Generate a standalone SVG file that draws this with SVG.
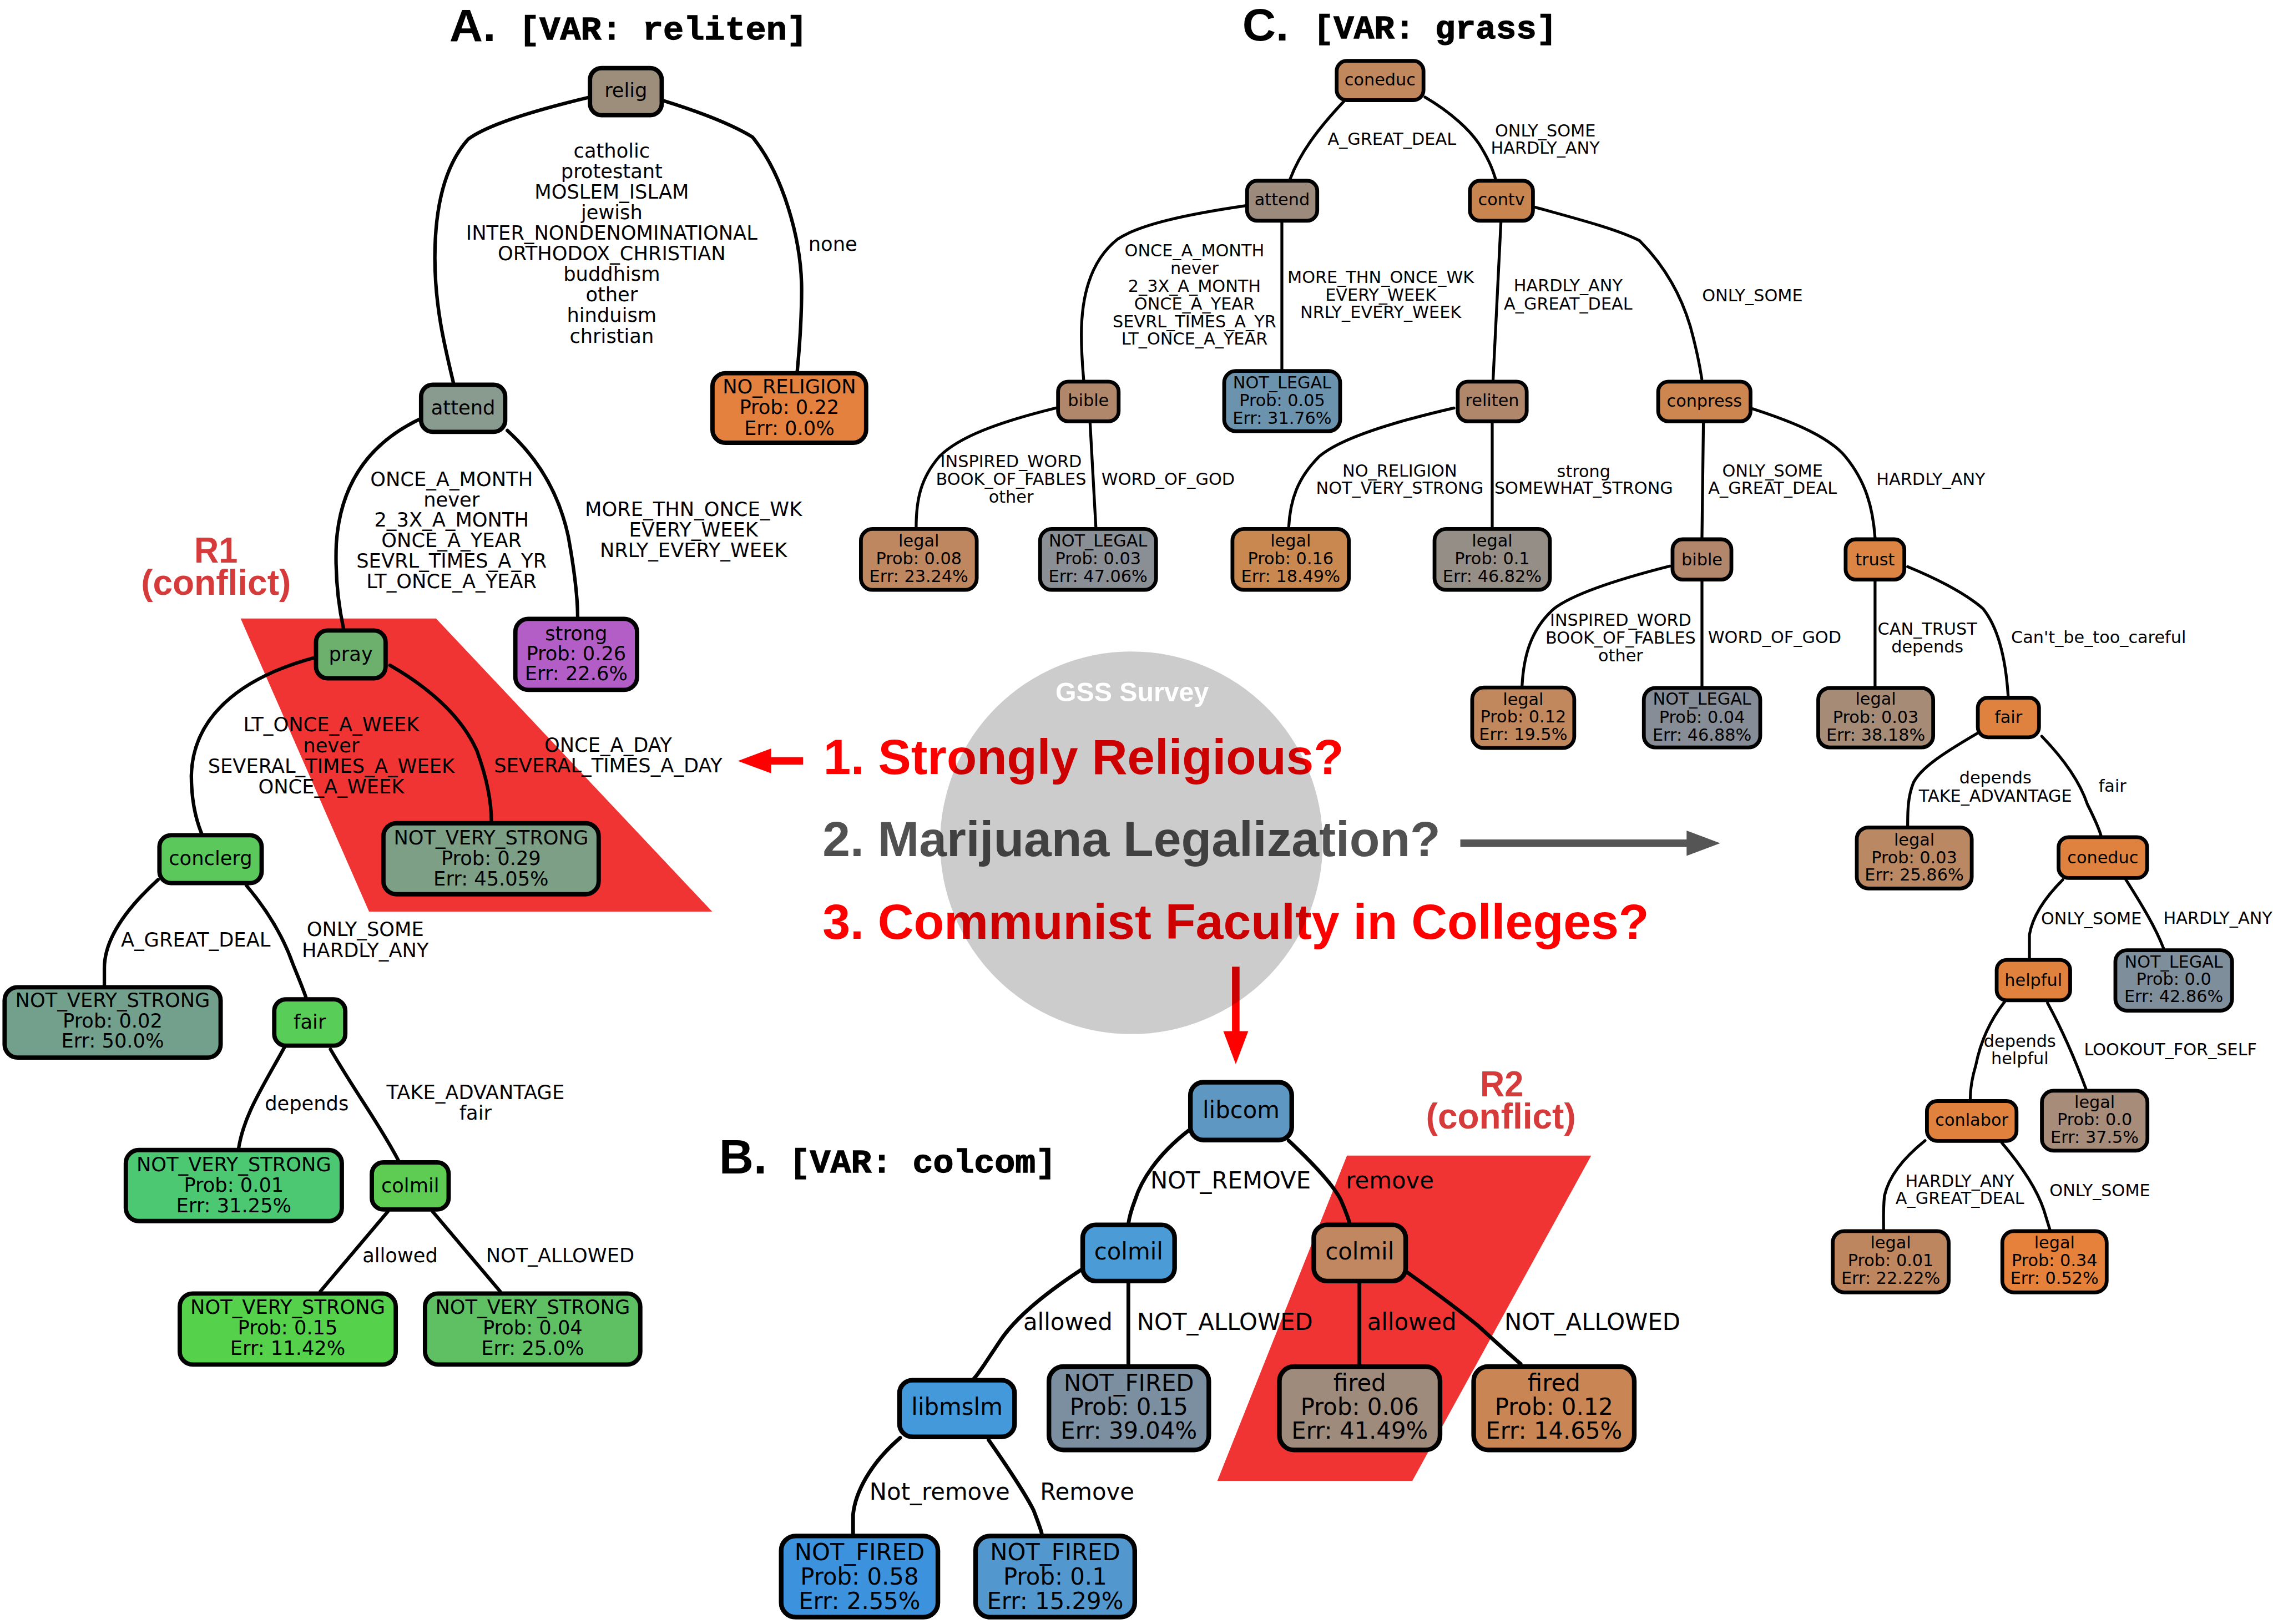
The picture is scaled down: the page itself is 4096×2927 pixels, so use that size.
<svg xmlns="http://www.w3.org/2000/svg" width="4096" height="2927" viewBox="0 0 4096 2927">
<style>
.t{font-family:'DejaVu Sans','Noto Sans',sans-serif;text-anchor:middle;fill:#000}
.ta{font-size:13.5px}
.tb{font-size:16px}
.tc{font-size:11.6px}
.e{fill:none;stroke:#000;stroke-linecap:round}
.ea{stroke-width:2.4}
.eb{stroke-width:2.6}
.ec{stroke-width:2}
.na{stroke:#000;stroke-width:3}
.nb{stroke:#000;stroke-width:3.2}
.nc{stroke:#000;stroke-width:2.6}
.big{font-family:'Liberation Sans',Arial,sans-serif;font-weight:bold}
.mono{font-family:'Liberation Mono','Courier New',monospace;font-weight:bold;font-size:22.5px;stroke:#000;stroke-width:0.5}
.conf{font-family:'Liberation Sans',Arial,sans-serif;font-weight:bold;fill:#d63b3b;font-size:25px;text-anchor:middle}
.q{font-family:'Liberation Sans',Arial,sans-serif;font-weight:bold;font-size:34.3px}
</style>
<rect width="4096" height="2927" fill="#fff"/>
<g transform="scale(2.6122)">
<!-- titles -->
<g id="titles">
<text class="big" x="310" y="28.3" font-size="31.5" textLength="32" lengthAdjust="spacingAndGlyphs">A.</text>
<text class="mono" x="358" y="27" textLength="199" lengthAdjust="spacingAndGlyphs">[VAR: reliten]</text>
<text class="big" x="857" y="28" font-size="31.5" textLength="32" lengthAdjust="spacingAndGlyphs">C.</text>
<text class="mono" x="906" y="26.5" textLength="168" lengthAdjust="spacingAndGlyphs">[VAR: grass]</text>
<text class="big" x="496" y="809.8" font-size="33">B.</text>
<text class="mono" x="544.6" y="809" textLength="184" lengthAdjust="spacingAndGlyphs">[VAR: colcom]</text>
</g>
<!-- conflict regions -->
<g id="conflict-R1">
<polygon points="166,426.7 300.8,426.7 491.3,629 254.6,629" fill="#f03434"/>
<text class="conf" x="149" y="388" textLength="30" lengthAdjust="spacingAndGlyphs">R1</text>
<text class="conf" x="149" y="410.5" textLength="103.4" lengthAdjust="spacingAndGlyphs">(conflict)</text>
</g>
<g id="conflict-R2">
<polygon points="929.2,797.3 1097.7,797.3 974.3,1021.7 839.8,1021.7" fill="#f03434"/>
<text class="conf" x="1036" y="756.4" textLength="30" lengthAdjust="spacingAndGlyphs">R2</text>
<text class="conf" x="1035.4" y="778.5" textLength="103.4" lengthAdjust="spacingAndGlyphs">(conflict)</text>
</g>
<!-- center questions -->
<g id="center">
<text class="q" x="568" y="534" fill="#ff0000" textLength="359" lengthAdjust="spacingAndGlyphs">1. Strongly Religious?</text>
<text class="q" x="567.4" y="590.6" fill="#515151" textLength="426.3" lengthAdjust="spacingAndGlyphs">2. Marijuana Legalization?</text>
<text class="q" x="567.4" y="647.7" fill="#ff0000" textLength="570.2" lengthAdjust="spacingAndGlyphs">3. Communist Faculty in Colleges?</text>
<rect x="531" y="522.4" width="23" height="5.2" fill="#ff0000"/>
<polygon points="509,525 532,516.4 532,533.6" fill="#ff0000"/>
<rect x="1007.4" y="579.2" width="157" height="5.2" fill="#555555"/>
<polygon points="1186.7,581.8 1163.5,573.1 1163.5,590.5" fill="#555555"/>
<rect x="849.9" y="667" width="5.2" height="45" fill="#ff0000"/>
<polygon points="852.5,734.2 843.9,711.5 861.1,711.5" fill="#ff0000"/>
<circle cx="780.5" cy="581.5" r="132" fill="#000" fill-opacity="0.2"/>
<text class="big" x="781" y="484" font-size="18.7" fill="#fff" text-anchor="middle" textLength="105.8" lengthAdjust="spacingAndGlyphs">GSS Survey</text>
</g>
<!-- connectors -->
<g id="connectors">
<g class="e ea">
<path d="M407,67 C365,77 335,87 323,96 C306,115 300,145 300,178 C300,212 307,240 313,265"/>
<path d="M458,69.6 C485,78 505,86 519,94.5 C540,120 553,165 553,200 C553,225 551,245 550,256"/>
<path d="M290,289 C258,304 235,330 232,375 C231,400 234,420 237,434"/>
<path d="M350,297 C372,317 386,342 392,370 C396,392 398.5,410 398.5,426"/>
<path d="M216,454 C165,468 133,495 132,535 C132,552 135,565 139,575"/>
<path d="M269,459 C302,478 320,498 329,518 C337,540 339,555 339,567"/>
<path d="M109,607 C87,627 72,648 72,668 L72,680"/>
<path d="M170,611 C186,630 196,648 202,665 C206,675 209,682 211,688"/>
<path d="M196,723 C180,752 168,770 164.5,793"/>
<path d="M228,724 C246,755 262,776 275,801"/>
<path d="M267.5,836 L221,891"/>
<path d="M298.5,836 L345,891"/>
</g>
<g class="e eb">
<path d="M820,780 C798,797 787,815 783,828 C780,836 779,840 778.5,844"/>
<path d="M889,787 C905,802 920,818 925,828 C928,835 930,840 931,844"/>
<path d="M746,876 C720,893 700,910 690,925 C680,940 675,948 672,951"/>
<path d="M778.4,885.5 L778.4,942"/>
<path d="M937.8,885.5 L937.8,942"/>
<path d="M971,878 C992,893 1008,905 1020,915 C1032,926 1042,935 1049,941"/>
<path d="M621,992 C600,1010 590,1030 588.5,1045 L588.5,1058"/>
<path d="M682,993.5 C697,1015 708,1032 713,1042 C716,1050 718,1055 718.6,1058"/>
</g>
<g class="e ec">
<path d="M927,70 C910,88 897,105 890,123.5"/>
<path d="M983,67 C1000,77 1015,90 1022,102 C1028,112 1030,118 1031.7,123.5"/>
<path d="M859,142 C818,148 786,155 771,165 C752,180 746,205 746,231 C746,245 747,255 747.6,262.5"/>
<path d="M884.3,153.6 L884.3,255"/>
<path d="M1035.4,153.6 L1030,262"/>
<path d="M1059,143 C1088,151 1115,158 1131,166 C1150,185 1160,205 1166,225 C1171,243 1173,255 1174,261.5"/>
<path d="M728.6,281.5 C690,291 662,301 648,315 C635,330 632,345 632,364"/>
<path d="M752,292 L756,364"/>
<path d="M1003,281.5 C962,291 925,302 910,315 C895,330 890,345 889,364"/>
<path d="M1029.4,292 L1029.4,364"/>
<path d="M1175.1,292 L1174.1,371"/>
<path d="M1209,282 C1240,292 1262,302 1273,315 C1287,332 1292,350 1293.5,371"/>
<path d="M1152,390.6 C1115,400 1085,410 1072,420 C1055,435 1051,455 1050,473"/>
<path d="M1174.1,401.3 L1174.1,473.4"/>
<path d="M1293.5,401.3 L1293.5,473.4"/>
<path d="M1316,391 C1345,403 1360,413 1368,420 C1380,435 1384,460 1385.3,480"/>
<path d="M1364,506 C1340,520 1325,530 1320,540 C1316,550 1316,560 1316,569.6"/>
<path d="M1408.5,508 C1425,525 1435,540 1440,555 C1445,565 1448,572 1449.3,576.3"/>
<path d="M1423,607 C1410,620 1402,633 1400,645 L1400,661"/>
<path d="M1466.6,607 C1478,625 1487,640 1492.5,654.3"/>
<path d="M1383,691 C1372,705 1366,720 1363,735 C1360,745 1359.2,752 1359.2,758.4"/>
<path d="M1412.5,692 C1425,715 1433,735 1439,751.3"/>
<path d="M1328,787 C1312,800 1303,812 1300,825 C1299,835 1299.4,842 1299.4,848"/>
<path d="M1381,788.5 C1395,805 1405,820 1410,835 L1414,848"/>
</g>
</g>
<!-- edge labels -->
<g id="edge-labels">
<text class="t ta" y="108.6"><tspan x="422">catholic</tspan><tspan x="422" dy="14.2">protestant</tspan><tspan x="422" dy="14.2">MOSLEM_ISLAM</tspan><tspan x="422" dy="14.2">jewish</tspan><tspan x="422" dy="14.2">INTER_NONDENOMINATIONAL</tspan><tspan x="422" dy="14.2">ORTHODOX_CHRISTIAN</tspan><tspan x="422" dy="14.2">buddhism</tspan><tspan x="422" dy="14.2">other</tspan><tspan x="422" dy="14.2">hinduism</tspan><tspan x="422" dy="14.2">christian</tspan></text>
<text class="t ta" x="574.5" y="172.9">none</text>
<text class="t ta" y="335.2"><tspan x="311.5">ONCE_A_MONTH</tspan><tspan x="311.5" dy="14.14">never</tspan><tspan x="311.5" dy="14.14">2_3X_A_MONTH</tspan><tspan x="311.5" dy="14.14">ONCE_A_YEAR</tspan><tspan x="311.5" dy="14.14">SEVRL_TIMES_A_YR</tspan><tspan x="311.5" dy="14.14">LT_ONCE_A_YEAR</tspan></text>
<text class="t ta" y="356.2"><tspan x="478.4">MORE_THN_ONCE_WK</tspan><tspan x="478.4" dy="14.1">EVERY_WEEK</tspan><tspan x="478.4" dy="14.1">NRLY_EVERY_WEEK</tspan></text>
<text class="t ta" y="504.7"><tspan x="228.5">LT_ONCE_A_WEEK</tspan><tspan x="228.5" dy="14.27">never</tspan><tspan x="228.5" dy="14.27">SEVERAL_TIMES_A_WEEK</tspan><tspan x="228.5" dy="14.27">ONCE_A_WEEK</tspan></text>
<text class="t ta" y="518.9"><tspan x="419.5">ONCE_A_DAY</tspan><tspan x="419.5" dy="13.8">SEVERAL_TIMES_A_DAY</tspan></text>
<text class="t ta" x="135" y="653.2">A_GREAT_DEAL</text>
<text class="t ta" y="645.9"><tspan x="252">ONLY_SOME</tspan><tspan x="252" dy="14.3">HARDLY_ANY</tspan></text>
<text class="t ta" x="211.6" y="765.9">depends</text>
<text class="t ta" y="758.4"><tspan x="328">TAKE_ADVANTAGE</tspan><tspan x="328" dy="14.2">fair</tspan></text>
<text class="t ta" x="276" y="870.9">allowed</text>
<text class="t ta" x="386.4" y="870.9">NOT_ALLOWED</text>

<text class="t tb" x="848.9" y="820.1">NOT_REMOVE</text>
<text class="t tb" x="958.8" y="820.1">remove</text>
<text class="t tb" x="736.7" y="917.8">allowed</text>
<text class="t tb" x="845" y="917.8">NOT_ALLOWED</text>
<text class="t tb" x="973.9" y="917.8">allowed</text>
<text class="t tb" x="1098.5" y="917.8">NOT_ALLOWED</text>
<text class="t tb" x="648.2" y="1034.8">Not_remove</text>
<text class="t tb" x="750" y="1034.8">Remove</text>

<text class="t tc" x="960.2" y="100">A_GREAT_DEAL</text>
<text class="t tc" y="94.2"><tspan x="1066">ONLY_SOME</tspan><tspan x="1066" dy="11.9">HARDLY_ANY</tspan></text>
<text class="t tc" y="177"><tspan x="824">ONCE_A_MONTH</tspan><tspan x="824" dy="12.18">never</tspan><tspan x="824" dy="12.18">2_3X_A_MONTH</tspan><tspan x="824" dy="12.18">ONCE_A_YEAR</tspan><tspan x="824" dy="12.18">SEVRL_TIMES_A_YR</tspan><tspan x="824" dy="12.18">LT_ONCE_A_YEAR</tspan></text>
<text class="t tc" y="195.4"><tspan x="952.5">MORE_THN_ONCE_WK</tspan><tspan x="952.5" dy="12.05">EVERY_WEEK</tspan><tspan x="952.5" dy="12.05">NRLY_EVERY_WEEK</tspan></text>
<text class="t tc" y="322.4"><tspan x="697.5">INSPIRED_WORD</tspan><tspan x="697.5" dy="12.25">BOOK_OF_FABLES</tspan><tspan x="697.5" dy="12.25">other</tspan></text>
<text class="t tc" x="805.8" y="334.5">WORD_OF_GOD</text>
<text class="t tc" y="201.1"><tspan x="1081.8">HARDLY_ANY</tspan><tspan x="1081.8" dy="12.4">A_GREAT_DEAL</tspan></text>
<text class="t tc" x="1208.9" y="207.7">ONLY_SOME</text>
<text class="t tc" y="329"><tspan x="965.6">NO_RELIGION</tspan><tspan x="965.6" dy="11.8">NOT_VERY_STRONG</tspan></text>
<text class="t tc" y="329.2"><tspan x="1092.5">strong</tspan><tspan x="1092.5" dy="11.6">SOMEWHAT_STRONG</tspan></text>
<text class="t tc" y="329"><tspan x="1222.8">ONLY_SOME</tspan><tspan x="1222.8" dy="11.8">A_GREAT_DEAL</tspan></text>
<text class="t tc" x="1332" y="334.5">HARDLY_ANY</text>
<text class="t tc" y="431.8"><tspan x="1118">INSPIRED_WORD</tspan><tspan x="1118" dy="12.3">BOOK_OF_FABLES</tspan><tspan x="1118" dy="12.3">other</tspan></text>
<text class="t tc" x="1224.2" y="443.7">WORD_OF_GOD</text>
<text class="t tc" y="437.8"><tspan x="1329.6">CAN_TRUST</tspan><tspan x="1329.6" dy="12.4">depends</tspan></text>
<text class="t tc" x="1447.7" y="443.7">Can't_be_too_careful</text>
<text class="t tc" y="540.4"><tspan x="1376.5">depends</tspan><tspan x="1376.5" dy="12.7">TAKE_ADVANTAGE</tspan></text>
<text class="t tc" x="1457.3" y="546.4">fair</text>
<text class="t tc" x="1442.7" y="637.8">ONLY_SOME</text>
<text class="t tc" x="1530" y="637.5">HARDLY_ANY</text>
<text class="t tc" y="722.5"><tspan x="1393.4">depends</tspan><tspan x="1393.4" dy="11.8">helpful</tspan></text>
<text class="t tc" x="1497.3" y="728.2">LOOKOUT_FOR_SELF</text>
<text class="t tc" y="818.9"><tspan x="1352">HARDLY_ANY</tspan><tspan x="1352" dy="12">A_GREAT_DEAL</tspan></text>
<text class="t tc" x="1448.6" y="825.2">ONLY_SOME</text>
</g>
<!-- Tree A nodes -->
<g id="a-relig"><rect class="na" x="407" y="47" width="49.5" height="32.5" rx="8" fill="#9c8e7b"/><text class="t ta" x="431.75" y="67.1">relig</text></g>
<g id="a-no-religion"><rect class="na" x="491.5" y="257.5" width="106" height="48" rx="9" fill="#e5813e"/><text class="t ta" y="271.4"><tspan x="544.5">NO_RELIGION</tspan><tspan x="544.5" dy="14.3">Prob: 0.22</tspan><tspan x="544.5" dy="14.3">Err: 0.0%</tspan></text></g>
<g id="a-attend"><rect class="na" x="290.5" y="265.5" width="58" height="32.5" rx="8" fill="#899a8f"/><text class="t ta" x="319.5" y="285.9">attend</text></g>
<g id="a-strong"><rect class="na" x="355.5" y="427" width="84" height="49" rx="9" fill="#b35ec6"/><text class="t ta" y="441.7"><tspan x="397.5">strong</tspan><tspan x="397.5" dy="13.9">Prob: 0.26</tspan><tspan x="397.5" dy="13.9">Err: 22.6%</tspan></text></g>
<g id="a-pray"><rect class="na" x="218" y="435" width="48" height="33" rx="8" fill="#6daf6d"/><text class="t ta" x="242" y="455.9">pray</text></g>
<g id="a-nvs-029"><rect class="na" x="264.5" y="568" width="148.5" height="49" rx="9" fill="#7d9f85"/><text class="t ta" y="582.5"><tspan x="338.75">NOT_VERY_STRONG</tspan><tspan x="338.75" dy="14.15">Prob: 0.29</tspan><tspan x="338.75" dy="14.15">Err: 45.05%</tspan></text></g>
<g id="a-conclerg"><rect class="na" x="110" y="576.3" width="70.5" height="33" rx="8" fill="#5bc85b"/><text class="t ta" x="145.25" y="596.7">conclerg</text></g>
<g id="a-nvs-002"><rect class="na" x="3.2" y="681.2" width="149" height="48.5" rx="9" fill="#72a08d"/><text class="t ta" y="694.9"><tspan x="77.7">NOT_VERY_STRONG</tspan><tspan x="77.7" dy="14">Prob: 0.02</tspan><tspan x="77.7" dy="14">Err: 50.0%</tspan></text></g>
<g id="a-fair"><rect class="na" x="189.2" y="689.5" width="49" height="32" rx="8" fill="#58cd58"/><text class="t ta" x="213.7" y="709.7">fair</text></g>
<g id="a-nvs-001"><rect class="na" x="86.8" y="793.5" width="149" height="49" rx="9" fill="#4cc873"/><text class="t ta" y="808.2"><tspan x="161.3">NOT_VERY_STRONG</tspan><tspan x="161.3" dy="14.2">Prob: 0.01</tspan><tspan x="161.3" dy="14.2">Err: 31.25%</tspan></text></g>
<g id="a-colmil"><rect class="na" x="256.5" y="802" width="53" height="32.5" rx="8" fill="#5ecb52"/><text class="t ta" x="283" y="822.5">colmil</text></g>
<g id="a-nvs-015"><rect class="na" x="124" y="892.5" width="149" height="49" rx="9" fill="#55d14b"/><text class="t ta" y="906.5"><tspan x="198.5">NOT_VERY_STRONG</tspan><tspan x="198.5" dy="14.2">Prob: 0.15</tspan><tspan x="198.5" dy="14.2">Err: 11.42%</tspan></text></g>
<g id="a-nvs-004"><rect class="na" x="293.2" y="892.5" width="148.5" height="49" rx="9" fill="#5fbf63"/><text class="t ta" y="906.5"><tspan x="367.45">NOT_VERY_STRONG</tspan><tspan x="367.45" dy="14.2">Prob: 0.04</tspan><tspan x="367.45" dy="14.2">Err: 25.0%</tspan></text></g>
<!-- Tree B nodes -->
<g id="b-libcom"><rect class="nb" x="821.2" y="746.7" width="69.9" height="39.9" rx="9" fill="#5f97c3"/><text class="t tb" x="856.15" y="771.3">libcom</text></g>
<g id="b-colmil-l"><rect class="nb" x="746.9" y="845.1" width="63.4" height="38.8" rx="9" fill="#4b9bd6"/><text class="t tb" x="778.6" y="869.1">colmil</text></g>
<g id="b-colmil-r"><rect class="nb" x="906.3" y="845.1" width="63.4" height="38.8" rx="9" fill="#c08761"/><text class="t tb" x="938" y="869.1">colmil</text></g>
<g id="b-libmslm"><rect class="nb" x="620.5" y="952.3" width="79.4" height="39.1" rx="9" fill="#4399da"/><text class="t tb" x="660.2" y="976.1">libmslm</text></g>
<g id="b-nf-015"><rect class="nb" x="723.6" y="942.9" width="110.3" height="57.5" rx="10" fill="#7b8fa0"/><text class="t tb" y="959.6"><tspan x="778.75">NOT_FIRED</tspan><tspan x="778.75" dy="16.6">Prob: 0.15</tspan><tspan x="778.75" dy="16.6">Err: 39.04%</tspan></text></g>
<g id="b-fired-006"><rect class="nb" x="882.6" y="942.9" width="110.8" height="57.5" rx="10" fill="#9f8b7b"/><text class="t tb" y="959.6"><tspan x="938">fired</tspan><tspan x="938" dy="16.6">Prob: 0.06</tspan><tspan x="938" dy="16.6">Err: 41.49%</tspan></text></g>
<g id="b-fired-012"><rect class="nb" x="1016.6" y="942.9" width="110.8" height="57.5" rx="10" fill="#c98654"/><text class="t tb" y="959.6"><tspan x="1072">fired</tspan><tspan x="1072" dy="16.6">Prob: 0.12</tspan><tspan x="1072" dy="16.6">Err: 14.65%</tspan></text></g>
<g id="b-nf-058"><rect class="nb" x="538.9" y="1059.8" width="108.1" height="56" rx="10" fill="#3c92dc"/><text class="t tb" y="1076.5"><tspan x="592.95">NOT_FIRED</tspan><tspan x="592.95" dy="16.85">Prob: 0.58</tspan><tspan x="592.95" dy="16.85">Err: 2.55%</tspan></text></g>
<g id="b-nf-01"><rect class="nb" x="673" y="1059.8" width="109.8" height="56" rx="10" fill="#5298cf"/><text class="t tb" y="1076.5"><tspan x="727.9">NOT_FIRED</tspan><tspan x="727.9" dy="16.85">Prob: 0.1</tspan><tspan x="727.9" dy="16.85">Err: 15.29%</tspan></text></g>
<!-- Tree C nodes -->
<g id="c-coneduc"><rect class="nc" x="922.1" y="42" width="59.9" height="27.1" rx="7" fill="#c1885e"/><text class="t tc" x="952" y="59">coneduc</text></g>
<g id="c-attend"><rect class="nc" x="860.3" y="124.7" width="48.4" height="27.6" rx="7" fill="#9c8b7d"/><text class="t tc" x="884.5" y="141.7">attend</text></g>
<g id="c-contv"><rect class="nc" x="1014" y="124.7" width="43.5" height="27.6" rx="7" fill="#c88550"/><text class="t tc" x="1035.75" y="141.7">contv</text></g>
<g id="c-bible-1"><rect class="nc" x="729.9" y="263.3" width="41.8" height="27.4" rx="7" fill="#b1876b"/><text class="t tc" x="750.8" y="280.2">bible</text></g>
<g id="c-nl-005"><rect class="nc" x="844.5" y="256" width="80" height="41.5" rx="8" fill="#6b93ae"/><text class="t tc" y="268.1"><tspan x="884.5">NOT_LEGAL</tspan><tspan x="884.5" dy="12.2">Prob: 0.05</tspan><tspan x="884.5" dy="12.2">Err: 31.76%</tspan></text></g>
<g id="c-reliten"><rect class="nc" x="1005.6" y="263.3" width="47.6" height="27.4" rx="7" fill="#b0876b"/><text class="t tc" x="1029.4" y="280.2">reliten</text></g>
<g id="c-conpress"><rect class="nc" x="1143.9" y="263.3" width="63.7" height="27.4" rx="7" fill="#cd864f"/><text class="t tc" x="1175.75" y="280.5">conpress</text></g>
<g id="c-legal-008"><rect class="nc" x="593.9" y="365" width="79.9" height="42" rx="8" fill="#bf875f"/><text class="t tc" y="377.1"><tspan x="633.85">legal</tspan><tspan x="633.85" dy="12.2">Prob: 0.08</tspan><tspan x="633.85" dy="12.2">Err: 23.24%</tspan></text></g>
<g id="c-nl-003"><rect class="nc" x="717.5" y="365" width="80" height="42" rx="8" fill="#8a8e95"/><text class="t tc" y="377.1"><tspan x="757.5">NOT_LEGAL</tspan><tspan x="757.5" dy="12.2">Prob: 0.03</tspan><tspan x="757.5" dy="12.2">Err: 47.06%</tspan></text></g>
<g id="c-legal-016"><rect class="nc" x="850.2" y="365" width="80.3" height="42" rx="8" fill="#c8884f"/><text class="t tc" y="377.1"><tspan x="890.35">legal</tspan><tspan x="890.35" dy="12.2">Prob: 0.16</tspan><tspan x="890.35" dy="12.2">Err: 18.49%</tspan></text></g>
<g id="c-legal-01"><rect class="nc" x="989.6" y="365" width="79.6" height="42" rx="8" fill="#958e87"/><text class="t tc" y="377.1"><tspan x="1029.4">legal</tspan><tspan x="1029.4" dy="12.2">Prob: 0.1</tspan><tspan x="1029.4" dy="12.2">Err: 46.82%</tspan></text></g>
<g id="c-bible-2"><rect class="nc" x="1153.8" y="372.1" width="40.6" height="27.8" rx="7" fill="#b1866b"/><text class="t tc" x="1174.1" y="390.2">bible</text></g>
<g id="c-trust"><rect class="nc" x="1273.2" y="372.1" width="40.5" height="27.8" rx="7" fill="#dc8444"/><text class="t tc" x="1293.45" y="390.2">trust</text></g>
<g id="c-legal-012"><rect class="nc" x="1015.6" y="474.4" width="70.4" height="41.7" rx="8" fill="#c1875d"/><text class="t tc" y="486.5"><tspan x="1050.8">legal</tspan><tspan x="1050.8" dy="12.1">Prob: 0.12</tspan><tspan x="1050.8" dy="12.1">Err: 19.5%</tspan></text></g>
<g id="c-nl-004"><rect class="nc" x="1134" y="474.7" width="80.3" height="41" rx="8" fill="#878d96"/><text class="t tc" y="486.3"><tspan x="1174.15">NOT_LEGAL</tspan><tspan x="1174.15" dy="12.4">Prob: 0.04</tspan><tspan x="1174.15" dy="12.4">Err: 46.88%</tspan></text></g>
<g id="c-legal-003a"><rect class="nc" x="1254.3" y="474.7" width="79.3" height="41" rx="8" fill="#a68b77"/><text class="t tc" y="486.3"><tspan x="1293.95">legal</tspan><tspan x="1293.95" dy="12.4">Prob: 0.03</tspan><tspan x="1293.95" dy="12.4">Err: 38.18%</tspan></text></g>
<g id="c-fair"><rect class="nc" x="1364.4" y="481.4" width="42.2" height="27.3" rx="7" fill="#df823f"/><text class="t tc" x="1385.5" y="498.7">fair</text></g>
<g id="c-legal-003b"><rect class="nc" x="1280.9" y="570.9" width="79.3" height="42.1" rx="8" fill="#ba8862"/><text class="t tc" y="583.4"><tspan x="1320.55">legal</tspan><tspan x="1320.55" dy="12.15">Prob: 0.03</tspan><tspan x="1320.55" dy="12.15">Err: 25.86%</tspan></text></g>
<g id="c-coneduc-2"><rect class="nc" x="1420.1" y="577.6" width="61.1" height="28.2" rx="7" fill="#e0823f"/><text class="t tc" x="1450.65" y="595.5">coneduc</text></g>
<g id="c-nl-00"><rect class="nc" x="1459.3" y="655.6" width="80.5" height="41.7" rx="8" fill="#7f8e9b"/><text class="t tc" y="667.7"><tspan x="1499.55">NOT_LEGAL</tspan><tspan x="1499.55" dy="11.9">Prob: 0.0</tspan><tspan x="1499.55" dy="11.9">Err: 42.86%</tspan></text></g>
<g id="c-helpful"><rect class="nc" x="1377.4" y="662.3" width="50.7" height="27.9" rx="7" fill="#e0823e"/><text class="t tc" x="1402.75" y="680.4">helpful</text></g>
<g id="c-legal-00"><rect class="nc" x="1408.6" y="752.6" width="72.8" height="41.3" rx="8" fill="#a68c79"/><text class="t tc" y="764.5"><tspan x="1445">legal</tspan><tspan x="1445" dy="12">Prob: 0.0</tspan><tspan x="1445" dy="12">Err: 37.5%</tspan></text></g>
<g id="c-conlabor"><rect class="nc" x="1329.3" y="759.7" width="61.8" height="27.5" rx="7" fill="#e0823d"/><text class="t tc" x="1360.2" y="776.9">conlabor</text></g>
<g id="c-legal-001"><rect class="nc" x="1264.3" y="849.4" width="80" height="42.3" rx="8" fill="#bd865e"/><text class="t tc" y="861.3"><tspan x="1304.3">legal</tspan><tspan x="1304.3" dy="12.2">Prob: 0.01</tspan><tspan x="1304.3" dy="12.2">Err: 22.22%</tspan></text></g>
<g id="c-legal-034"><rect class="nc" x="1381.3" y="849.4" width="72" height="42.3" rx="8" fill="#e5813a"/><text class="t tc" y="861.3"><tspan x="1417.3">legal</tspan><tspan x="1417.3" dy="12.2">Prob: 0.34</tspan><tspan x="1417.3" dy="12.2">Err: 0.52%</tspan></text></g>
</g>
</svg>
